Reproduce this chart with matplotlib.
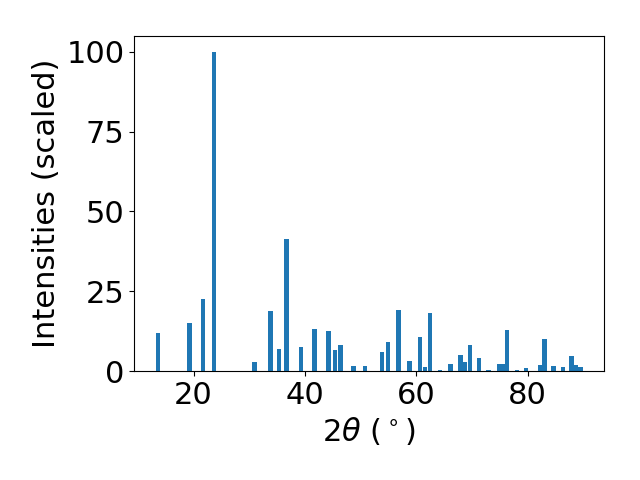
import matplotlib
matplotlib.use("Agg")
import matplotlib.pyplot as plt

# 2theta 位置與強度
two_theta = [13.6, 19.3, 21.7, 23.7, 30.9, 33.8, 35.3, 36.7, 39.3, 41.7,
             44.2, 45.35, 46.4, 48.7, 50.75, 53.8, 54.9, 56.8, 58.8, 60.7,
             61.6, 62.5, 64.3, 66.1, 67.9, 68.7, 69.6, 71.3, 73.0, 74.8,
             75.6, 76.3, 78.1, 79.7, 82.2, 83.0, 84.6, 86.3, 87.9, 88.7, 89.5]
intensity = [11.9, 15.1, 22.6, 100.0, 2.8, 18.8, 6.9, 41.4, 7.5, 13.2,
             12.5, 6.6, 8.2, 1.6, 1.6, 6.0, 9.1, 19.1, 3.1, 10.7,
             1.2, 18.2, 0.3, 2.2, 5.0, 2.9, 8.2, 4.1, 0.3, 2.2,
             2.2, 12.9, 0.3, 0.9, 1.9, 10.0, 1.6, 1.3, 4.7, 1.9, 1.3]

plt.rcParams['font.size'] = 22
fig, ax = plt.subplots(figsize=(6.4, 4.8), dpi=100)
ax.bar(two_theta, intensity, width=0.8, color="#1f77b4")
ax.set_xlabel(r'$2\theta$ ($^\circ$)')
ax.set_ylabel('Intensities (scaled)')
ax.set_yticks([0, 25, 50, 75, 100])
fig.subplots_adjust(left=0.21, right=0.944, bottom=0.227, top=0.925)
fig.savefig("out.png")
